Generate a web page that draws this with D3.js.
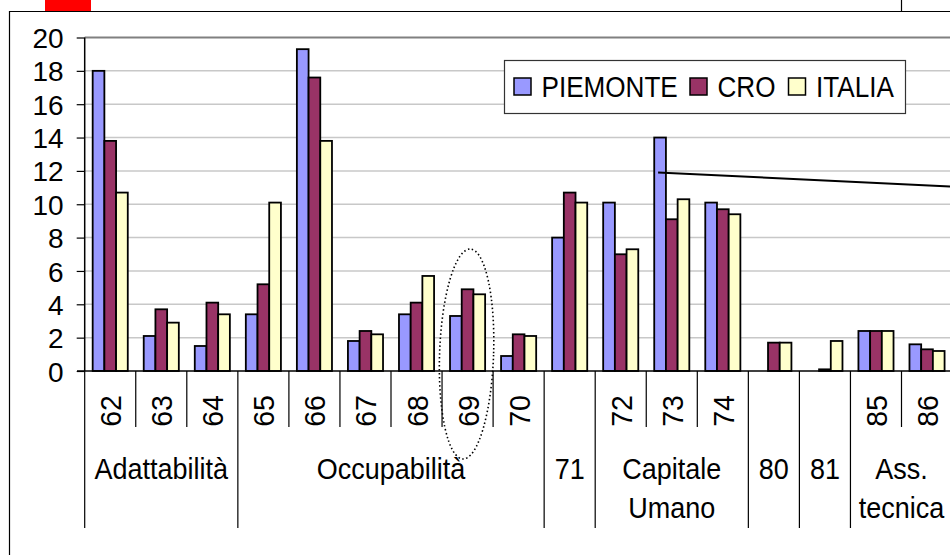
<!DOCTYPE html>
<html><head><meta charset="utf-8">
<script src="https://cdn.jsdelivr.net/npm/d3@7"></script>
<style>html,body{margin:0;padding:0;background:#fff;overflow:hidden}text{font-family:"Liberation Sans",Arial,sans-serif;fill:#000}</style>
</head><body>
<svg id="c" width="950" height="555"></svg>
<script>
const categories = ["62","63","64","65","66","67","68","69","70","71","72","73","74","80","81","85","86"];
const tickLabels = ["62","63","64","65","66","67","68","69","70","","72","73","74","","","85","86"];
const groupLabels = [["Adattabilità"],["Occupabilità"],["71"],["Capitale","Umano"],["80"],["81"],["Ass.","tecnica"]];
const groupSizes = [3,6,1,3,1,1,2];
const seriesNames = ["PIEMONTE","CRO","ITALIA"];
const seriesColors = ["#9999FF","#993366","#FFFFCC"];
const piemonte = [18.0,2.1,1.5,3.4,19.3,1.8,3.4,3.3,0.9,8.0,10.1,14.0,10.1,null,null,2.4,1.6];
const cro      = [13.8,3.7,4.1,5.2,17.6,2.4,4.1,4.9,2.2,10.7,7.0,9.1,9.7,1.7,0.1,2.4,1.3];
const italia   = [10.7,2.9,3.4,10.1,13.8,2.2,5.7,4.6,2.1,10.1,7.3,10.3,9.4,1.7,1.8,2.4,1.2];
const yTicks = [0,2,4,6,8,10,12,14,16,18,20];

const series = [piemonte, cro, italia];
const svg = d3.select("#c");
svg.append("rect").attr("width",950).attr("height",555).attr("fill","#fff");

// outer frame pieces
svg.append("rect").attr("x",45).attr("y",0).attr("width",46).attr("height",11).attr("fill","#ff0000");
svg.append("line").attr("x1",9).attr("x2",950).attr("y1",11.5).attr("y2",11.5).attr("stroke","#000").attr("stroke-width",1.2);
svg.append("line").attr("x1",9.5).attr("x2",9.5).attr("y1",11).attr("y2",555).attr("stroke","#000").attr("stroke-width",1.2);
svg.append("line").attr("x1",901.5).attr("x2",901.5).attr("y1",0).attr("y2",11).attr("stroke","#000").attr("stroke-width",1.2);

const x0 = 84.7, step = 51.05;
const x = d3.scaleBand().domain(categories).range([x0, x0 + step*categories.length]).padding(0);
const y = d3.scaleLinear().domain([0,20]).range([371,37.5]);
const barW = 11.7;
const inner = d3.scaleBand().domain(seriesNames).range([(step-3*barW)/2, (step-3*barW)/2 + 3*barW]).padding(0);

// gridlines
svg.append("g").selectAll("line").data(yTicks.filter(d=>d>0)).join("line")
  .attr("x1",x0).attr("x2",950).attr("y1",d=>y(d)).attr("y2",d=>y(d))
  .attr("stroke",d=>d===20?"#808080":"#c8c8c8").attr("stroke-width",d=>d===20?2:1.5);

// y axis
const yAxis = d3.axisLeft(y).tickValues(yTicks).tickSize(8).tickPadding(13);
const ya = svg.append("g").attr("transform",`translate(${x0},0)`).call(yAxis);
ya.select(".domain").remove();
ya.selectAll(".tick line").attr("stroke","#000").attr("stroke-width",1.2);
ya.selectAll(".tick text").attr("font-size",28).attr("font-family","Liberation Sans, Arial, sans-serif").attr("fill","#000").attr("dy","0.36em");
svg.append("line").attr("x1",x0).attr("x2",x0).attr("y1",y(20)).attr("y2",371).attr("stroke","#000").attr("stroke-width",1.5);

// bars
const barData = [];
categories.forEach((c,i)=>series.forEach((s,j)=>{ if(s[i]!==null) barData.push({c, s:seriesNames[j], v:s[i], col:seriesColors[j]}); }));
svg.append("g").selectAll("rect").data(barData).join("rect")
  .attr("x",d=>x(d.c)+inner(d.s)).attr("width",inner.bandwidth())
  .attr("y",d=>y(d.v)).attr("height",d=>y(0)-y(d.v))
  .attr("fill",d=>d.col).attr("stroke","#000").attr("stroke-width",1.8);

// baseline
svg.append("line").attr("x1",77).attr("x2",950).attr("y1",y(0)).attr("y2",y(0)).attr("stroke","#000").attr("stroke-width",1.5);

// category dividers
const groupEnds = new Set(); let acc=0; groupSizes.forEach(n=>{acc+=n; groupEnds.add(acc);});
const divs = d3.range(0, categories.length+1).map(i=>({i, long: i===0 || groupEnds.has(i)}));
svg.append("g").selectAll("line").data(divs).join("line")
  .attr("x1",d=>x0+d.i*step).attr("x2",d=>x0+d.i*step)
  .attr("y1",y(0)).attr("y2",d=>d.long?528:427)
  .attr("stroke","#000").attr("stroke-width",1.2);

// rotated tick labels
svg.append("g").selectAll("text").data(categories.map((c,i)=>({c,l:tickLabels[i]})).filter(d=>d.l)).join("text")
  .attr("transform",d=>`translate(${x(d.c)+x.bandwidth()/2+11},411) rotate(-90) scale(0.95,1)`)
  .attr("text-anchor","middle").attr("font-size",30).text(d=>d.l);

// group labels
let start=0;
const gdata = groupSizes.map((n,k)=>{const g={lines:groupLabels[k], cx: x0+(start+n/2)*step}; start+=n; return g;});
const gg = svg.append("g").selectAll("text").data(gdata).join("text")
  .attr("transform",d=>`translate(${d.cx},479) scale(0.9,1)`).attr("text-anchor","middle").attr("font-size",30);
gg.selectAll("tspan").data(d=>d.lines).join("tspan").attr("x",0).attr("y",(d,i)=>i*39).text(d=>d);

// legend
const lg = svg.append("g");
lg.append("rect").attr("x",504.5).attr("y",60.5).attr("width",401).attr("height",53).attr("fill","#fff").attr("stroke","#333").attr("stroke-width",1.2);
const legX = [514, 690, 788.5];
seriesNames.forEach((n,j)=>{
  lg.append("rect").attr("x",legX[j]).attr("y",78).attr("width",17).attr("height",17).attr("fill",seriesColors[j]).attr("stroke","#000").attr("stroke-width",1.5);
  lg.append("text").attr("transform",`translate(${legX[j]+27.5},96.5) scale(0.87,1)`).attr("font-size",30).text(n);
});

// annotation line from bar 73 PIEMONTE
const ax = x("73")+inner("PIEMONTE")+inner.bandwidth()/2-2;
const ay = y(11.9);
svg.append("line").attr("x1",ax).attr("y1",ay).attr("x2",950).attr("y2",ay+(950-ax)*0.0477).attr("stroke","#000").attr("stroke-width",2);

// dotted ellipse around 69
const ex = x("69")+x.bandwidth()/2 - 1;
svg.append("ellipse").attr("cx",0).attr("cy",0).attr("rx",27).attr("ry",105)
  .attr("transform",`translate(${ex},${y(0)-17}) rotate(2)`)
  .attr("fill","none").attr("stroke","#000").attr("stroke-width",1.6).attr("stroke-dasharray","1.5,2.5");
</script>
</body></html>
